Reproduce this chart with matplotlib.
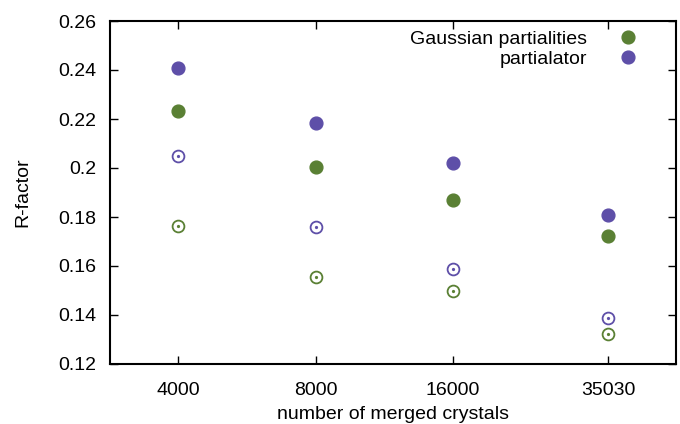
import numpy as np
import matplotlib
matplotlib.use("Agg")
import matplotlib.pyplot as plt
from matplotlib.ticker import FixedLocator, FixedFormatter, NullLocator

# data
crystals = [4000, 8000, 16000, 35030]
crystal_labels = ["4000", "8000", "16000", "35030"]

gauss_filled = [0.2234, 0.2005, 0.1869, 0.1722]
partialator_filled = [0.2409, 0.2185, 0.2022, 0.1808]
gauss_open = [0.1764, 0.1556, 0.1499, 0.1322]
partialator_open = [0.2050, 0.1758, 0.1587, 0.1386]

y_ticks = [0.12, 0.14, 0.16, 0.18, 0.2, 0.22, 0.24, 0.26]
y_tick_labels = ["0.12", "0.14", "0.16", "0.18", "0.2", "0.22", "0.24", "0.26"]

green = "#5a8034"
purple = "#5e4fa8"

plt.rcParams['font.family'] = ['Liberation Sans', 'DejaVu Sans']
font_size = 14

fig = plt.figure(figsize=(6.8, 4.24), dpi=100)
ax = fig.add_axes([110 / 680, 1 - 364 / 424, 566 / 680, 343 / 424])

ax.plot(crystals, gauss_filled, linestyle='none', marker='o', markersize=9.2,
        color=green, label="Gaussian partialities")
ax.plot(crystals, partialator_filled, linestyle='none', marker='o', markersize=9.2,
        color=purple, label="partialator")

# open circles with a small centre dot (gnuplot style)
for values, colour in [(gauss_open, green), (partialator_open, purple)]:
    ax.plot(crystals, values, linestyle='none', marker='o', markersize=8.5,
            markerfacecolor='none', markeredgecolor=colour, markeredgewidth=1.3,
            label='_nolegend_')
    ax.plot(crystals, values, linestyle='none', marker='o', markersize=1.3,
            color=colour, label='_nolegend_')

ax.set_xscale('log')
ax.set_xlim(2834, 49350)
ax.set_ylim(0.12, 0.26)

ax.xaxis.set_major_locator(FixedLocator(crystals))
ax.xaxis.set_major_formatter(FixedFormatter(crystal_labels))
ax.xaxis.set_minor_locator(NullLocator())
ax.set_yticks(y_ticks)
ax.set_yticklabels(y_tick_labels)

ax.tick_params(axis='both', which='major', direction='in', length=6, width=1,
               top=True, right=True, labelsize=font_size, pad=10)
ax.tick_params(axis='x', pad=13)

for spine in ax.spines.values():
    spine.set_linewidth(1.5)

ax.set_xlabel("number of merged crystals", fontsize=font_size, labelpad=5)
ax.set_ylabel("R-factor", fontsize=font_size, labelpad=19)

ax.legend(loc='upper right', bbox_to_anchor=(0.956, 0.99), borderaxespad=0,
          frameon=False, markerfirst=False, fontsize=font_size,
          handlelength=1.8, handletextpad=1.2, labelspacing=0.14, borderpad=0.3)

fig.savefig("out.png", dpi=100)
